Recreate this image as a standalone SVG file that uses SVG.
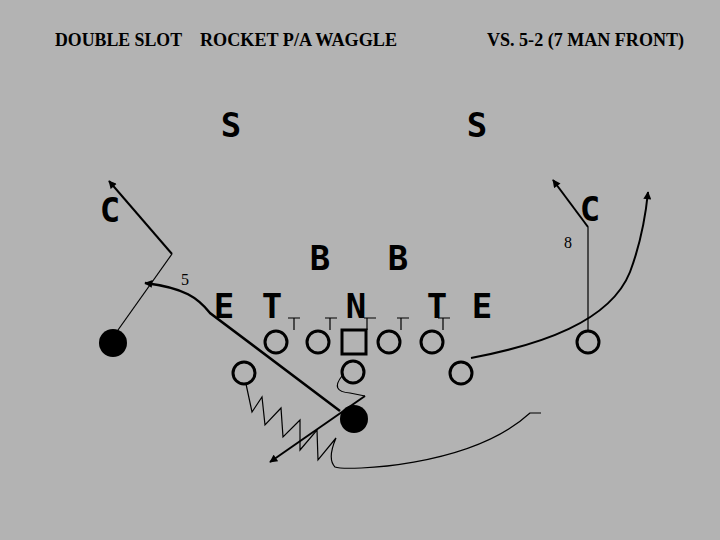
<svg xmlns="http://www.w3.org/2000/svg" width="720" height="540" viewBox="0 0 720 540">
<defs>
<marker id="ah" viewBox="0 0 10 10" refX="9" refY="5" markerWidth="9" markerHeight="8" orient="auto" markerUnits="userSpaceOnUse"><path d="M0,0 L10,5 L0,10 z" fill="#000"/></marker>
<style>
.t{font-family:"Liberation Serif",serif;font-weight:bold;font-size:18px;fill:#000}
.d{font-family:"DejaVu Sans Mono","Liberation Mono",monospace;font-weight:bold;font-size:34px;fill:#000;text-anchor:middle}
.n{font-family:"Liberation Serif",serif;font-size:16px;fill:#000;text-anchor:middle}
.o{fill:none;stroke:#000;stroke-width:3}
.f{fill:#000}
.thin{fill:none;stroke:#000;stroke-width:1.2}
.med{fill:none;stroke:#000;stroke-width:2}
.thick{fill:none;stroke:#000;stroke-width:2.5}
</style>
</defs>
<rect width="720" height="540" fill="#b3b3b3"/>
<text class="t" x="55" y="46" textLength="127" lengthAdjust="spacingAndGlyphs">DOUBLE SLOT</text>
<text class="t" x="200" y="46" textLength="197" lengthAdjust="spacingAndGlyphs">ROCKET P/A WAGGLE</text>
<text class="t" x="487" y="46" textLength="197" lengthAdjust="spacingAndGlyphs">VS. 5-2 (7 MAN FRONT)</text>

<g id="defense">
<text class="d" x="231" y="137">S</text>
<text class="d" x="477" y="137">S</text>
<text class="d" x="110" y="222">C</text>
<text class="d" x="590" y="221">C</text>
<text class="d" x="320" y="270">B</text>
<text class="d" x="398" y="270">B</text>
<text class="d" x="224" y="318">E</text>
<text class="d" x="272" y="318">T</text>
<text class="d" x="356" y="318">N</text>
<text class="d" x="437" y="318">T</text>
<text class="d" x="482" y="318">E</text>
</g>

<g id="offense">
<circle class="o" cx="276" cy="342" r="11"/>
<circle class="o" cx="318" cy="342" r="11"/>
<rect class="o" x="342" y="330" width="24" height="24"/>
<circle class="o" cx="389" cy="342" r="11"/>
<circle class="o" cx="432" cy="342" r="11"/>
<circle class="o" cx="244" cy="373" r="11"/>
<circle class="o" cx="353" cy="372" r="11"/>
<circle class="o" cx="461" cy="373" r="11"/>
<circle class="o" cx="588" cy="342" r="11"/>
<circle class="f" cx="113" cy="343" r="14"/>
<circle class="f" cx="354" cy="419" r="14"/>
</g>

<g id="connectors">
<path class="thin" d="M288,318 H300 M294,318 V330 M325,318 H337 M330,318 V330 M364,318 H376 M367,318 V330 M397,318 H409 M401,318 V330 M438,318 H450 M443,318 V330"/>
<path class="thin" d="M118,330 L172,254"/>
<path class="med" d="M172,254 L109,181" marker-end="url(#ah)"/>
<path class="thick" d="M340,411 L210,313 C198,298 185,288 145,283" marker-end="url(#ah)"/>
<path class="thin" d="M342,376 C334,386 336,392 350,393 L365,396"/>
<path class="med" d="M365,396 L270,462" marker-end="url(#ah)"/>
<path class="thin" d="M246,384 L252,412 L262,397 L265,425 L281,408 L283,437 L300,420 L300,450 L317,430 L318,460 L336,438 C330,452 330,462 335,467 C345,471 470,468 530,413 L541,413"/>
<path class="med" d="M471,358 C540,345 610,322 630,272 C642,240 646,212 648,192" marker-end="url(#ah)"/>
<path class="thin" d="M588,330 V227"/>
<path class="med" d="M588,227 L553,180" marker-end="url(#ah)"/>
<text class="n" x="185" y="285">5</text>
<text class="n" x="568" y="248">8</text>
</g>
</svg>
